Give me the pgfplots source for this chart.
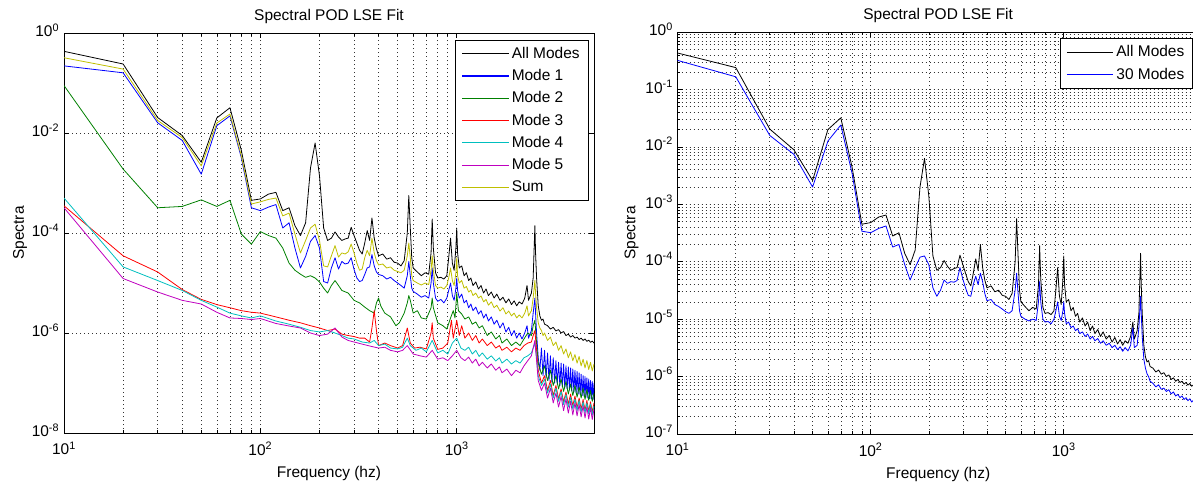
\documentclass[border=0pt]{standalone}
\usepackage{fontspec}
\setmainfont{Liberation Sans}
\usepackage{pgfplots}
\usepackage{pgfplotstable}
\pgfplotsset{compat=1.18}
\newcommand{\fsz}{\fontsize{11.6}{13.9}\selectfont}
\definecolor{mblue}{rgb}{0,0,1}
\definecolor{mgreen}{rgb}{0,0.5,0}
\definecolor{mred}{rgb}{1,0,0}
\definecolor{mcyan}{rgb}{0,0.75,0.75}
\definecolor{mmag}{rgb}{0.75,0,0.75}
\definecolor{myel}{rgb}{0.75,0.75,0}

\pgfplotstableread{
f s
10 0.43
20 0.24
30 0.0204
40 8.9e-3
50 2.6e-3
60 0.020
70 0.032
80 4.5e-3
90 4.5e-4
100 4.8e-4
110 6.0e-4
120 6.5e-4
130 2.8e-4
140 3.2e-4
150 1.4e-4
160 8.9e-5
170 1.6e-4
180 2.0e-3
190 6.3e-3
200 1.4e-3
210 1.26e-4
220 7.1e-5
230 7.9e-5
240 1.05e-4
250 8.3e-5
260 7.1e-5
270 7.6e-5
280 7.9e-5
290 1.3e-4
300 8.9e-5
310 6.3e-5
320 4.5e-5
330 3.8e-5
340 6.3e-5
350 1.12e-4
360 7.1e-5
370 2.0e-4
380 7.9e-5
390 4.8e-5
400 3.5e-5
420 3.8e-5
440 3.0e-5
460 3.2e-5
480 2.6e-5
500 2.5e-5
520 2.2e-5
540 2.8e-5
560 1.0e-4
570 5.6e-4
580 1.26e-4
590 3.2e-5
600 2.0e-5
630 1.66e-5
660 1.4e-5
690 1.6e-5
720 1.5e-5
740 4.0e-5
750 1.9e-4
760 5.0e-5
780 1.6e-5
800 1.26e-5
830 1.3e-5
860 1.2e-5
890 1.4e-5
910 3.2e-5
930 7.9e-5
950 2.5e-5
970 1.8e-5
990 5.0e-5
1000 1.26e-4
1010 4.0e-5
1030 2.0e-5
1060 2.2e-5
1090 1.4e-5
1120 1.6e-5
1150 1.12e-5
1180 1.26e-5
1210 8.9e-6
1250 1.05e-5
1290 7.6e-6
1330 8.9e-6
1370 6.3e-6
1410 7.6e-6
1450 5.6e-6
1500 6.6e-6
1550 5.0e-6
1600 6.0e-6
1660 4.5e-6
1720 5.2e-6
1780 4.0e-6
1840 4.8e-6
1900 3.7e-6
1960 4.4e-6
2020 3.5e-6
2080 4.2e-6
2150 3.8e-6
2220 5.0e-6
2280 8.9e-6
2320 4.5e-6
2400 6.3e-6
2450 1.26e-5
2500 1.4e-4
2520 4.0e-5
2550 1.26e-5
2600 3.5e-6
2650 2.2e-6
2700 1.8e-6
2750 1.9e-6
2800 1.5e-6
2900 1.4e-6
3000 1.2e-6
3100 1.3e-6
3200 1.1e-6
3300 1.17e-6
3400 1.0e-6
3500 1.07e-6
3600 8.9e-7
3700 9.5e-7
3800 8.3e-7
3900 8.9e-7
4000 7.9e-7
4100 8.3e-7
4200 7.4e-7
4300 7.9e-7
4400 7.1e-7
4500 7.6e-7
4600 6.8e-7
4700 7.2e-7
4800 6.5e-7
4900 6.9e-7
5000 6.3e-7
}\allmodes

\pgfplotstableread{
f s
10 0.22
20 0.16
30 0.016
40 7.1e-3
50 1.5e-3
60 0.014
70 0.022
80 3.2e-3
90 3.2e-4
100 2.8e-4
110 3.3e-4
120 3.7e-4
130 1.26e-4
140 1.6e-4
150 5.0e-5
160 2.0e-5
170 3.4e-5
180 6.8e-5
190 8.9e-5
200 5.0e-5
210 1.07e-5
220 1.0e-5
230 2.0e-5
240 3.2e-5
250 1.9e-5
260 2.7e-5
270 2.4e-5
280 2.5e-5
290 3.2e-5
300 1.86e-5
310 1.26e-5
320 1.07e-5
330 1.12e-5
340 1.48e-5
350 2.0e-5
360 2.1e-5
370 3.7e-5
380 2.2e-5
390 1.66e-5
400 1.48e-5
420 1.4e-5
440 1.2e-5
460 1.3e-5
480 1.12e-5
500 1.0e-5
520 8.9e-6
540 7.9e-6
560 1.4e-5
570 2.7e-5
580 1.4e-5
590 7.9e-6
600 6.8e-6
630 6.0e-6
660 5.2e-6
690 5.6e-6
720 5.0e-6
740 1.0e-5
750 2.0e-5
760 1.0e-5
780 5.0e-6
800 4.3e-6
830 4.7e-6
860 4.0e-6
890 5.0e-6
910 7.1e-6
930 1.0e-5
950 5.6e-6
970 4.5e-6
990 7.9e-6
1000 1.26e-5
1010 7.1e-6
1030 5.0e-6
1060 6.0e-6
1090 4.0e-6
1120 4.5e-6
1150 3.2e-6
1180 3.8e-6
1210 2.8e-6
1250 3.3e-6
1290 2.4e-6
1330 2.8e-6
1370 2.0e-6
1410 2.4e-6
1450 1.74e-6
1500 2.1e-6
1550 1.5e-6
1600 1.8e-6
1660 1.26e-6
1720 1.6e-6
1780 1.05e-6
1840 1.3e-6
1900 8.9e-7
1960 1.12e-6
2020 7.9e-7
2080 1.0e-6
2150 7.6e-7
2220 1.0e-6
2280 1.4e-6
2320 7.9e-7
2400 1.12e-6
2450 2.5e-6
2500 5.0e-6
2520 2.5e-6
2550 1.0e-6
2600 3.2e-7
2650 1.8e-7
2700 5.0e-7
2750 1.4e-7
2800 4.5e-7
2850 1.26e-7
2900 4.0e-7
2950 1.12e-7
3000 3.5e-7
3050 1.05e-7
3100 3.2e-7
3150 1.0e-7
3200 2.8e-7
3250 9.3e-8
3300 2.6e-7
3350 8.9e-8
3400 2.5e-7
3450 8.3e-8
3500 2.4e-7
3550 7.9e-8
3600 2.2e-7
3650 7.6e-8
3700 2.1e-7
3750 7.2e-8
3800 2.0e-7
3850 6.9e-8
3900 1.9e-7
3950 6.6e-8
4000 1.8e-7
4050 6.3e-8
4100 1.7e-7
4150 6.0e-8
4200 1.6e-7
4250 5.9e-8
4300 1.5e-7
4350 5.6e-8
4400 1.4e-7
4450 5.4e-8
4500 1.35e-7
4550 5.2e-8
4600 1.26e-7
4650 5.0e-8
4700 1.2e-7
4750 4.9e-8
4800 1.12e-7
4850 4.8e-8
4900 1.07e-7
4950 4.7e-8
5000 1.0e-7
}\modeone

\pgfplotstableread{
f s
10 0.089
20 1.9e-3
30 3.2e-4
40 3.4e-4
50 4.6e-4
60 3.4e-4
70 4.5e-4
80 9.5e-5
90 6.0e-5
100 1.07e-4
110 8.9e-5
120 7.9e-5
130 5.0e-5
140 2.5e-5
150 1.8e-5
160 1.5e-5
170 1.3e-5
180 1.4e-5
190 1.26e-5
200 1.05e-5
210 7.9e-6
220 6.3e-6
230 8.9e-6
240 1.12e-5
250 8.9e-6
260 7.1e-6
280 6.3e-6
300 4.5e-6
320 4.0e-6
340 3.3e-6
360 2.8e-6
380 2.5e-6
390 4.0e-6
400 5.0e-6
410 3.5e-6
430 2.5e-6
460 2.1e-6
490 1.4e-6
510 1.6e-6
540 2.5e-6
560 4.0e-6
570 5.6e-6
580 4.5e-6
600 2.5e-6
630 2.8e-6
660 2.0e-6
700 1.9e-6
740 3.2e-6
750 5.0e-6
760 3.2e-6
800 1.6e-6
850 1.4e-6
890 1.2e-6
930 2.0e-6
960 2.8e-6
980 2.0e-6
1000 6.3e-6
1020 2.8e-6
1060 2.4e-6
1100 1.9e-6
1150 2.1e-6
1200 1.5e-6
1250 1.66e-6
1300 1.26e-6
1350 1.4e-6
1430 8.9e-7
1500 1.05e-6
1580 7.6e-7
1650 8.9e-7
1700 6.3e-7
1800 7.6e-7
1900 5.6e-7
2000 6.6e-7
2100 5.6e-7
2200 7.6e-7
2300 1.0e-6
2400 8.9e-7
2450 1.4e-6
2500 1.8e-6
2550 6.3e-7
2600 2.5e-7
2700 1.5e-7
2800 2.2e-7
2900 1.12e-7
3000 1.8e-7
3100 8.9e-8
3200 1.4e-7
3300 7.6e-8
3400 1.2e-7
3500 6.8e-8
3600 1.07e-7
3700 6.0e-8
3800 9.5e-8
3900 5.6e-8
4000 8.9e-8
4100 5.2e-8
4200 8.3e-8
4300 5.0e-8
4400 7.9e-8
4500 4.7e-8
4600 7.4e-8
4700 4.5e-8
4800 7.1e-8
4900 4.3e-8
5000 6.3e-8
}\modetwo

\pgfplotstableread{
f s
10 3.5e-4
20 3.5e-5
30 1.66e-5
40 7.4e-6
50 4.7e-6
60 3.7e-6
70 3.2e-6
80 2.8e-6
90 2.6e-6
100 2.5e-6
120 2.1e-6
140 1.8e-6
160 1.6e-6
180 1.4e-6
200 1.26e-6
220 1.12e-6
240 1.2e-6
260 9.5e-7
280 8.9e-7
300 8.5e-7
320 7.9e-7
340 7.9e-7
360 6.6e-7
370 1.26e-6
380 2.8e-6
390 1.12e-6
400 5.6e-7
430 6.3e-7
460 5.6e-7
500 5.0e-7
530 5.6e-7
560 1.26e-6
580 6.3e-7
610 5.0e-7
650 5.2e-7
700 4.8e-7
740 1.0e-6
750 1.6e-6
760 7.9e-7
800 4.7e-7
850 5.0e-7
900 6.3e-7
940 1.8e-6
960 7.9e-7
1000 1.8e-6
1030 8.9e-7
1060 1.4e-6
1100 7.9e-7
1150 1.0e-6
1200 7.1e-7
1250 8.9e-7
1300 6.3e-7
1350 7.6e-7
1430 5.6e-7
1500 6.6e-7
1580 5.0e-7
1650 5.6e-7
1700 4.5e-7
1800 5.2e-7
1900 4.2e-7
2000 5.0e-7
2100 4.5e-7
2200 5.6e-7
2300 6.3e-7
2400 6.6e-7
2450 8.9e-7
2500 1.12e-6
2550 4.5e-7
2600 1.8e-7
2700 1.0e-7
2800 1.4e-7
2900 7.1e-8
3000 1.12e-7
3100 5.6e-8
3200 8.9e-8
3300 4.8e-8
3400 7.6e-8
3500 4.2e-8
3600 6.6e-8
3700 3.8e-8
3800 6.0e-8
3900 3.5e-8
4000 5.5e-8
4100 3.2e-8
4200 5.0e-8
4300 3.0e-8
4400 4.7e-8
4500 2.8e-8
4600 4.5e-8
4700 2.7e-8
4800 4.2e-8
4900 2.6e-8
5000 4.0e-8
}\modethree

\pgfplotstableread{
f s
10 5.0e-4
20 2.1e-5
30 1.12e-5
40 7.1e-6
50 4.5e-6
60 3.3e-6
70 2.5e-6
80 2.2e-6
90 2.0e-6
100 2.2e-6
120 1.74e-6
140 1.5e-6
160 1.3e-6
180 1.12e-6
200 1.05e-6
220 1.12e-6
240 1.0e-6
260 8.9e-7
280 7.9e-7
300 7.6e-7
330 6.6e-7
360 6.3e-7
380 7.1e-7
400 5.6e-7
430 6.0e-7
460 5.0e-7
500 4.8e-7
530 5.2e-7
560 7.9e-7
580 5.6e-7
620 4.5e-7
660 5.0e-7
700 4.2e-7
750 7.1e-7
800 4.0e-7
850 4.5e-7
900 3.8e-7
950 6.3e-7
1000 7.9e-7
1050 5.0e-7
1100 4.5e-7
1150 5.2e-7
1200 3.8e-7
1250 4.5e-7
1300 3.4e-7
1350 4.0e-7
1430 3.0e-7
1500 3.5e-7
1580 2.75e-7
1650 3.2e-7
1700 2.5e-7
1800 3.0e-7
1900 2.4e-7
2000 2.8e-7
2100 2.5e-7
2200 3.2e-7
2300 3.5e-7
2400 4.0e-7
2450 5.0e-7
2500 6.3e-7
2550 3.2e-7
2600 1.4e-7
2700 8.9e-8
2800 1.2e-7
2900 6.3e-8
3000 9.5e-8
3100 5.0e-8
3200 7.9e-8
3300 4.3e-8
3400 6.8e-8
3500 3.7e-8
3600 5.9e-8
3700 3.3e-8
3800 5.2e-8
3900 3.0e-8
4000 4.8e-8
4100 2.8e-8
4200 4.5e-8
4300 2.6e-8
4400 4.2e-8
4500 2.5e-8
4600 4.0e-8
4700 2.4e-8
4800 3.8e-8
4900 2.3e-8
5000 3.5e-8
}\modefour

\pgfplotstableread{
f s
10 3.2e-4
20 1.23e-5
30 6.6e-6
40 4.5e-6
50 3.8e-6
60 2.6e-6
70 2.0e-6
80 1.95e-6
90 1.86e-6
100 1.95e-6
120 1.55e-6
140 1.38e-6
160 1.26e-6
180 1.0e-6
200 8.9e-7
220 9.5e-7
240 1.26e-6
260 8.3e-7
280 7.1e-7
300 6.6e-7
330 6.0e-7
360 5.5e-7
400 5.0e-7
430 5.2e-7
460 4.5e-7
500 4.2e-7
530 4.5e-7
560 5.6e-7
600 3.8e-7
650 3.5e-7
700 3.3e-7
750 4.5e-7
800 3.0e-7
850 3.2e-7
900 2.8e-7
950 3.5e-7
1000 4.5e-7
1050 3.2e-7
1100 2.8e-7
1150 3.3e-7
1200 2.5e-7
1250 3.0e-7
1300 2.2e-7
1350 2.6e-7
1430 2.0e-7
1500 2.4e-7
1580 1.8e-7
1650 2.1e-7
1700 1.6e-7
1800 1.9e-7
1900 1.4e-7
2000 1.8e-7
2100 1.6e-7
2200 2.2e-7
2300 2.8e-7
2400 3.5e-7
2450 5.0e-7
2500 7.1e-7
2550 2.8e-7
2600 1.12e-7
2700 7.1e-8
2800 1.0e-7
2900 5.0e-8
3000 7.9e-8
3100 4.0e-8
3200 6.3e-8
3300 3.3e-8
3400 5.4e-8
3500 2.8e-8
3600 4.8e-8
3700 2.5e-8
3800 4.3e-8
3900 2.3e-8
4000 4.0e-8
4100 2.2e-8
4200 3.7e-8
4300 2.1e-8
4400 3.5e-8
4500 2.0e-8
4600 3.3e-8
4700 1.9e-8
4800 3.2e-8
4900 1.86e-8
5000 3.0e-8
}\modefive

\pgfplotstableread{
f s
10 0.32
20 0.19
30 0.0178
40 8.1e-3
50 2.2e-3
60 0.0158
70 0.024
80 3.5e-3
90 3.8e-4
100 4.2e-4
110 4.7e-4
120 5.0e-4
130 2.2e-4
140 2.5e-4
150 9.5e-5
160 4.0e-5
170 7.1e-5
180 1.26e-4
190 1.5e-4
200 7.1e-5
210 2.2e-5
220 2.1e-5
230 3.5e-5
240 5.6e-5
250 3.3e-5
260 4.0e-5
270 3.8e-5
280 4.2e-5
290 6.0e-5
300 4.0e-5
310 2.5e-5
320 1.8e-5
330 1.9e-5
340 3.2e-5
350 4.5e-5
360 3.5e-5
370 7.9e-5
380 4.0e-5
390 2.8e-5
400 2.3e-5
420 2.4e-5
440 2.0e-5
460 2.1e-5
480 1.8e-5
500 1.7e-5
520 1.6e-5
540 1.8e-5
560 3.5e-5
570 6.3e-5
580 3.2e-5
590 1.4e-5
600 1.12e-5
630 1.0e-5
660 9.1e-6
690 1.0e-5
720 9.3e-6
740 1.8e-5
750 3.5e-5
760 1.8e-5
780 8.9e-6
800 7.9e-6
830 8.3e-6
860 7.6e-6
890 8.9e-6
910 1.26e-5
930 2.0e-5
950 1.12e-5
970 8.9e-6
990 1.6e-5
1000 3.2e-5
1010 1.4e-5
1030 1.0e-5
1060 1.12e-5
1090 7.9e-6
1120 8.5e-6
1150 6.6e-6
1180 7.2e-6
1210 5.6e-6
1250 6.3e-6
1290 5.0e-6
1330 5.5e-6
1370 4.2e-6
1410 4.7e-6
1450 3.6e-6
1500 4.2e-6
1550 3.2e-6
1600 3.6e-6
1660 2.75e-6
1720 3.2e-6
1780 2.4e-6
1840 2.75e-6
1900 2.2e-6
1960 2.5e-6
2020 2.0e-6
2080 2.3e-6
2150 2.0e-6
2220 2.5e-6
2280 3.5e-6
2320 2.2e-6
2400 2.8e-6
2450 5.0e-6
2500 1.12e-5
2520 6.3e-6
2550 3.2e-6
2600 1.6e-6
2650 1.26e-6
2700 1.12e-6
2750 8.9e-7
2800 1.0e-6
2900 7.1e-7
3000 8.3e-7
3100 5.6e-7
3200 6.6e-7
3300 4.5e-7
3400 5.6e-7
3500 3.8e-7
3600 4.8e-7
3700 3.2e-7
3800 4.2e-7
3900 2.8e-7
4000 3.7e-7
4100 2.5e-7
4200 3.4e-7
4300 2.2e-7
4400 3.0e-7
4500 2.0e-7
4600 2.8e-7
4700 1.86e-7
4800 2.6e-7
4900 1.74e-7
5000 2.4e-7
}\summodes

\pgfplotstableread{
f s
10 0.32
20 0.166
30 0.0158
40 7.4e-3
50 2.0e-3
60 0.0126
70 0.024
80 3.5e-3
90 3.4e-4
100 3.2e-4
110 3.8e-4
120 4.2e-4
130 1.8e-4
140 2.0e-4
150 8.9e-5
160 4.8e-5
170 7.9e-5
180 1.2e-4
190 1.26e-4
200 8.9e-5
210 3.5e-5
220 2.5e-5
230 3.2e-5
240 4.8e-5
250 4.2e-5
260 4.5e-5
270 4.4e-5
280 4.7e-5
290 7.9e-5
300 5.0e-5
310 3.5e-5
320 2.6e-5
330 2.5e-5
340 4.0e-5
350 5.6e-5
360 4.0e-5
370 6.3e-5
380 4.5e-5
390 2.8e-5
400 2.1e-5
420 2.2e-5
440 1.8e-5
460 1.66e-5
480 1.5e-5
500 1.35e-5
520 1.26e-5
540 1.4e-5
560 3.2e-5
570 6.3e-5
580 2.8e-5
590 1.4e-5
600 1.12e-5
630 1.0e-5
660 9.3e-6
690 1.0e-5
720 9.5e-6
740 2.0e-5
750 4.5e-5
760 2.0e-5
780 1.0e-5
800 8.9e-6
830 9.1e-6
860 8.3e-6
890 1.0e-5
910 1.4e-5
930 2.0e-5
950 1.12e-5
970 9.5e-6
990 1.4e-5
1000 2.0e-5
1010 1.26e-5
1030 8.3e-6
1060 8.9e-6
1090 7.1e-6
1120 7.6e-6
1150 6.3e-6
1180 6.8e-6
1210 5.6e-6
1250 6.0e-6
1290 5.0e-6
1330 5.5e-6
1370 4.5e-6
1410 5.0e-6
1450 4.2e-6
1500 4.6e-6
1550 3.8e-6
1600 4.2e-6
1660 3.5e-6
1720 3.8e-6
1780 3.2e-6
1840 3.5e-6
1900 2.95e-6
1960 3.3e-6
2020 2.75e-6
2080 3.2e-6
2150 2.8e-6
2220 3.5e-6
2280 7.1e-6
2320 3.2e-6
2400 3.5e-6
2450 7.1e-6
2500 2.5e-5
2520 1.26e-5
2550 5.0e-6
2600 2.0e-6
2650 1.4e-6
2700 1.12e-6
2750 1.0e-6
2800 8.3e-7
2900 7.6e-7
3000 6.6e-7
3100 7.2e-7
3200 6.0e-7
3300 6.3e-7
3400 5.5e-7
3500 5.9e-7
3600 5.0e-7
3700 5.4e-7
3800 4.6e-7
3900 4.9e-7
4000 4.3e-7
4100 4.6e-7
4200 4.0e-7
4300 4.3e-7
4400 3.8e-7
4500 4.1e-7
4600 3.6e-7
4700 3.9e-7
4800 3.5e-7
4900 3.7e-7
5000 3.4e-7
}\thirtymodes

\pgfplotsset{
  legend image code/.code={\draw[#1, line width=0.85pt] (0pt,0pt) -- (35pt,0pt);},
  every axis title/.style={at={(axis description cs:0.5,1)}, anchor=base, yshift=9.2pt, font=\fsz, inner sep=0pt},
  every axis x label/.style={at={(axis description cs:0.5,0)}, anchor=base, yshift=-33.5pt, font=\fsz, inner sep=0pt},
  xticklabel style={yshift=-3pt},
  yticklabel style={yshift=2pt},
}

\begin{document}
\begin{tikzpicture}
\useasboundingbox (0,0) rectangle (894.75pt,364.5pt);
\begin{loglogaxis}[
  scale only axis,
  at={(48pt,39.75pt)}, anchor=south west,
  width=397.5pt, height=300pt,
  xmin=10, xmax=5000, ymin=1e-8, ymax=1,
  tick align=inside,
  major tick length=3.75pt, minor tick length=2pt,
  xtick={10,100,1000},
  xticklabels={10\textsuperscript{1},10\textsuperscript{2},10\textsuperscript{3}},
  ytick={1e-8,1e-6,1e-4,1e-2,1},
  yticklabels={10\textsuperscript{-8},10\textsuperscript{-6},10\textsuperscript{-4},10\textsuperscript{-2},10\textsuperscript{0}},
  yminorticks=false,
  xmajorgrids, xminorgrids, ymajorgrids,
  grid style={black!80, line width=0.45pt, dash pattern=on 0.7pt off 2.3pt},
  minor grid style={black!80, line width=0.45pt, dash pattern=on 0.7pt off 2.3pt},
  axis line style={line width=0.55pt},
  tick style={black, line width=0.45pt},
  tick label style={font=\fsz},
  title={Spectral POD LSE Fit},
  xlabel={Frequency (hz)},
  ylabel={Spectra},
  every axis y label/.style={at={(axis description cs:0,0.5)}, rotate=90, anchor=center, yshift=33pt, font=\fsz},
  legend cell align=left,
  legend style={at={(axis description cs:1,1)}, anchor=north east, xshift=-4.3pt, yshift=-5.25pt,
    draw=black, line width=0.5pt, fill=white, font=\fsz, row sep=3.8pt,
    inner xsep=4.4pt, inner ysep=3.6pt, nodes={inner xsep=1.8pt, inner ysep=1.5pt}},
  every axis plot/.append style={line width=0.6pt, mark=none, line join=round},
]
\addplot[draw=black] table[x=f,y=s] {\allmodes};
\addlegendentry{All Modes}
\addplot[draw=mblue] table[x=f,y=s] {\modeone};
\addlegendentry{Mode 1}
\addplot[draw=mgreen] table[x=f,y=s] {\modetwo};
\addlegendentry{Mode 2}
\addplot[draw=mred] table[x=f,y=s] {\modethree};
\addlegendentry{Mode 3}
\addplot[draw=mcyan] table[x=f,y=s] {\modefour};
\addlegendentry{Mode 4}
\addplot[draw=mmag] table[x=f,y=s] {\modefive};
\addlegendentry{Mode 5}
\addplot[draw=myel] table[x=f,y=s] {\summodes};
\addlegendentry{Sum}
\end{loglogaxis}

\begin{loglogaxis}[
  scale only axis,
  at={(508.25pt,39pt)}, anchor=south west,
  width=390.75pt, height=301.5pt,
  xmin=10, xmax=5000, ymin=1e-7, ymax=1,
  tick align=inside,
  major tick length=3.75pt, minor tick length=2pt,
  xtick={10,100,1000},
  xticklabels={10\textsuperscript{1},10\textsuperscript{2},10\textsuperscript{3}},
  ytick={1e-7,1e-6,1e-5,1e-4,1e-3,1e-2,1e-1,1},
  yticklabels={10\textsuperscript{-7},10\textsuperscript{-6},10\textsuperscript{-5},10\textsuperscript{-4},10\textsuperscript{-3},10\textsuperscript{-2},10\textsuperscript{-1},10\textsuperscript{0}},
  xmajorgrids, xminorgrids, ymajorgrids, yminorgrids,
  grid style={black!80, line width=0.45pt, dash pattern=on 0.7pt off 2.3pt},
  minor grid style={black!80, line width=0.45pt, dash pattern=on 0.7pt off 2.3pt},
  axis line style={line width=0.55pt},
  tick style={black, line width=0.45pt},
  tick label style={font=\fsz},
  title={Spectral POD LSE Fit},
  xlabel={Frequency (hz)},
  ylabel={Spectra},
  every axis y label/.style={at={(axis description cs:0,0.5)}, rotate=90, anchor=center, yshift=34.5pt, font=\fsz},
  legend cell align=left,
  legend style={at={(axis description cs:1,1)}, anchor=north east, xshift=-4.3pt, yshift=-4.5pt,
    draw=black, line width=0.5pt, fill=white, font=\fsz, row sep=4pt,
    inner xsep=4.4pt, inner ysep=3.9pt, nodes={inner xsep=1.8pt, inner ysep=1.5pt}},
  every axis plot/.append style={line width=0.6pt, mark=none, line join=round},
]
\addplot[draw=black] table[x=f,y=s] {\allmodes};
\addlegendentry{All Modes}
\addplot[draw=mblue] table[x=f,y=s] {\thirtymodes};
\addlegendentry{30 Modes}
\end{loglogaxis}
\end{tikzpicture}
\end{document}
